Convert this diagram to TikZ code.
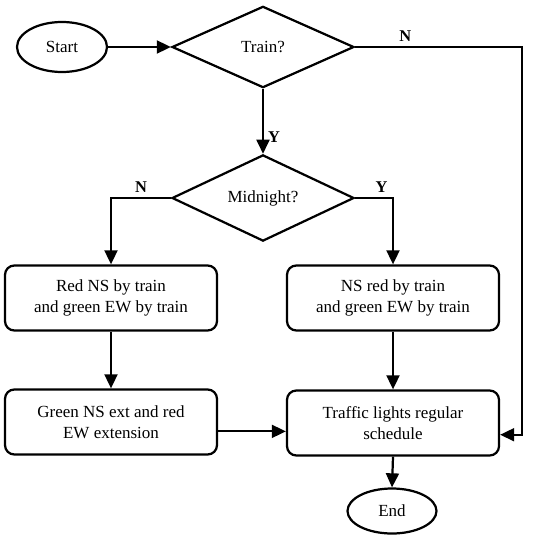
\documentclass[tikz,border=0pt]{standalone}
\usepackage{fontspec}
\setmainfont{Liberation Serif}
\usetikzlibrary{shapes.geometric, arrows.meta}

\tikzset{
  term/.style={draw, ellipse, inner sep=0pt},
  decide/.style={draw, diamond, inner sep=0pt, minimum width=5.46cm, minimum height=2.44cm},
  proc/.style={draw, rounded corners=8pt, minimum width=6.36cm, minimum height=1.95cm,
               align=center, inner sep=2pt},
  lbl/.style={font=\fontsize{14}{16}\selectfont\bfseries}
}

\begin{document}
\begin{tikzpicture}[x=0.03cm, y=-0.03cm, >={Triangle[length=12pt, width=11pt]},
                    line width=1.9pt, font=\fontsize{14.5}{18}\selectfont]
    \useasboundingbox (0,0) rectangle (541,535);

    \node[term, minimum width=2.7cm, minimum height=1.5cm] (start) at (62, 47) {Start};
    \node[decide] (train) at (263, 47) {Train?};
    \node[decide] (mid) at (263, 198) {Midnight?};

    \node[proc] (redns) at (111, 298) {Red NS by train \\ and green EW by train};
    \node[proc] (nsred) at (393, 298) {NS red by train \\ and green EW by train};
    \node[proc] (greenns) at (111, 422) {Green NS ext and red \\ EW extension};
    \node[proc] (sched) at (393, 423) {Traffic lights regular \\ schedule};

    \node[term, minimum width=2.67cm, minimum height=1.35cm] (stop) at (392, 511) {End};

    \coordinate (corner) at (522, 47);

    \draw[->] (start.east) -- (train.west);
    \draw[->] (train.south) -- node[lbl, right, pos=0.75] {Y} (mid.north);
    \draw[->] (train.east) -- node[lbl, above, pos=0.3] {N} (corner) |- ([yshift=-10pt]sched.east);
    \draw[->] (mid.west) -| node[lbl, above, pos=0.25] {N} (redns.north);
    \draw[->] (mid.east) -| node[lbl, above, pos=0.35] {Y} (nsred.north);
    \draw[->] (redns.south) -- (greenns.north);
    \draw[->] (nsred.south) -- (sched.north);
    \draw[->] ([yshift=-8pt]greenns.east) -- ([yshift=-8pt]greenns.east -| sched.west);
    \draw[->] (sched.south) -- (stop.north);
  \end{tikzpicture}
\end{document}
